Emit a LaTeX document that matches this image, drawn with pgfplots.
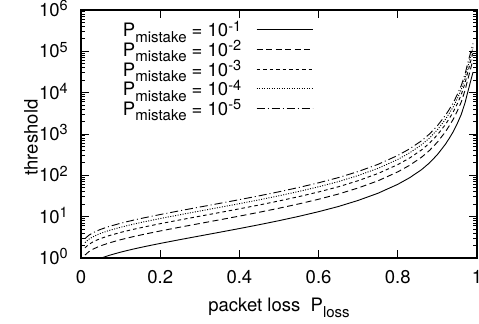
\documentclass[border=0pt]{standalone}
\usepackage{fontspec}
\setmainfont{TeX Gyre Heros}
\usepackage{pgfplots}
\usepackage{pgfplotstable}
\pgfplotsset{compat=1.18}
\newcommand{\supx}[1]{\raisebox{5.6bp}{\fontsize{14.5bp}{14.5bp}\selectfont #1}}
\newcommand{\subx}[1]{\raisebox{-5.5bp}{\fontsize{15bp}{15bp}\selectfont #1}}

\pgfplotstableread{
x      t1       t2       t3       t4       t5
0.0101 0.5893   1.1786   1.7680   2.3573   2.9466
0.02   0.7131   1.4262   2.1393   2.8524   3.5655
0.03   0.8140   1.6281   2.4421   3.2562   4.0702
0.04   0.9044   1.8088   2.7132   3.6176   4.5220
0.05   0.9891   1.9783   2.9674   3.9565   4.9457
0.07   1.1503   2.3006   3.4509   4.6012   5.7515
0.1    1.3865   2.7730   4.1595   5.5460   6.9325
0.13   1.6281   3.2562   4.8842   6.5123   8.1404
0.16   1.8830   3.7660   5.6491   7.5321   9.4151
0.2    2.2538   4.5076   6.7614   9.0152   11.269
0.25   2.7853   5.5707   8.3560   11.141   13.927
0.3    3.4196   6.8392   10.259   13.678   17.098
0.35   4.1938   8.3876   12.581   16.775   20.969
0.4    5.1595   10.319   15.478   20.638   25.797
0.45   6.3916   12.783   19.175   25.566   31.958
0.5    8.0039   16.008   24.012   32.016   40.020
0.55   10.176   20.352   30.528   40.704   50.880
0.6    13.206   26.413   39.619   52.825   66.032
0.65   17.620   35.241   52.861   70.481   88.102
0.7    24.760   49.520   74.280   99.040   123.80
0.75   36.888   73.776   110.66   147.55   184.44
0.8    60.659   121.32   181.98   242.64   303.30
0.83   87.675   175.35   263.03   350.70   438.38
0.86   137.21   274.42   411.63   548.84   686.05
0.88   199.96   399.92   599.88   799.84   999.80
0.9    317.55   635.10   952.65   1270.2   1587.8
0.92   561.00   1122.0   1683.0   2244.0   2805.0
0.93   788.48   1577.0   2365.4   3153.9   3942.4
0.94   1135.9   2271.8   3407.7   4543.6   5679.5
0.95   1775.6   3551.2   5326.8   7102.4   8878.0
0.96   2935.9   5871.8   8807.7   11744    14680
0.97   5755.3   11511    17266    23021    28777
0.975  8993.4   17987    26980    35974    44967
0.98   13624    27248    40872    54496    68120
0.985  20883    41766    62649    83532    104415
0.9899 31133    62266    93399    124532   155665
}\data

\begin{document}
\begin{tikzpicture}[font=\fontsize{18.5bp}{21bp}\selectfont]
\begin{axis}[
  scale only axis, width=396bp, height=248bp,
  xmin=0, xmax=1, ymin=1, ymax=1e6, ymode=log,
  xtick={0,0.2,0.4,0.6,0.8,1}, xticklabels={0,0.2,0.4,0.6,0.8,1},
  ytick={1,10,100,1000,10000,100000,1000000},
  yticklabels={10\supx{0},10\supx{1},10\supx{2},10\supx{3},10\supx{4},10\supx{5},10\supx{6}},
  minor ytick={2,3,4,5,6,7,8,9,20,30,40,50,60,70,80,90,200,300,400,500,600,700,800,900,2e3,3e3,4e3,5e3,6e3,7e3,8e3,9e3,2e4,3e4,4e4,5e4,6e4,7e4,8e4,9e4,2e5,3e5,4e5,5e5,6e5,7e5,8e5,9e5},
  tick align=inside,
  major tick length=8bp, minor tick length=4bp,
  every tick/.style={black, line width=0.9bp},
  axis line style={line width=1.3bp},
  xticklabel style={anchor=base, inner sep=0pt, yshift=-25bp},
  yticklabel style={anchor=base east, inner sep=0pt, xshift=-13bp, yshift=-6.5bp},
  xlabel={packet loss\ \ P\subx{loss}},
  ylabel={threshold},
  xlabel style={at={(axis description cs:0.5,0)}, anchor=base, yshift=-53.5bp, inner sep=0pt},
  ylabel style={at={([xshift=-50bp]axis description cs:0,0.486)}, anchor=center, inner sep=0pt},
  legend style={at={(axis description cs:0.586,0.940)}, anchor=north east, draw=none, fill=none,
    inner sep=0pt, outer sep=0pt, row sep=0pt, column sep=15bp,
    nodes={inner sep=0pt, text height=12bp, text depth=7.6bp}},
  legend cell align=right,
  legend plot pos=right,
  legend image code/.code={\draw[#1] (0bp,4.8bp) -- (56bp,4.8bp);},
]
\addplot[black, line width=0.9bp] table[x=x,y=t1]{\data};
\addlegendentry{P\subx{mistake} = 10\supx{-1}}
\addplot[black, line width=0.9bp, dash pattern=on 6bp off 3.5bp] table[x=x,y=t2]{\data};
\addlegendentry{P\subx{mistake} = 10\supx{-2}}
\addplot[black, line width=0.9bp, dash pattern=on 3.5bp off 3bp] table[x=x,y=t3]{\data};
\addlegendentry{P\subx{mistake} = 10\supx{-3}}
\addplot[black, line width=0.9bp, dash pattern=on 1bp off 1.5bp] table[x=x,y=t4]{\data};
\addlegendentry{P\subx{mistake} = 10\supx{-4}}
\addplot[black, line width=0.9bp, dash pattern=on 8bp off 3bp on 1bp off 3bp] table[x=x,y=t5]{\data};
\addlegendentry{P\subx{mistake} = 10\supx{-5}}
\end{axis}
\pgfresetboundingbox
\path[use as bounding box] ([xshift=-81bp,yshift=-66bp]current axis.south west) rectangle ([xshift=2bp,yshift=10bp]current axis.north east);
\end{tikzpicture}
\end{document}
